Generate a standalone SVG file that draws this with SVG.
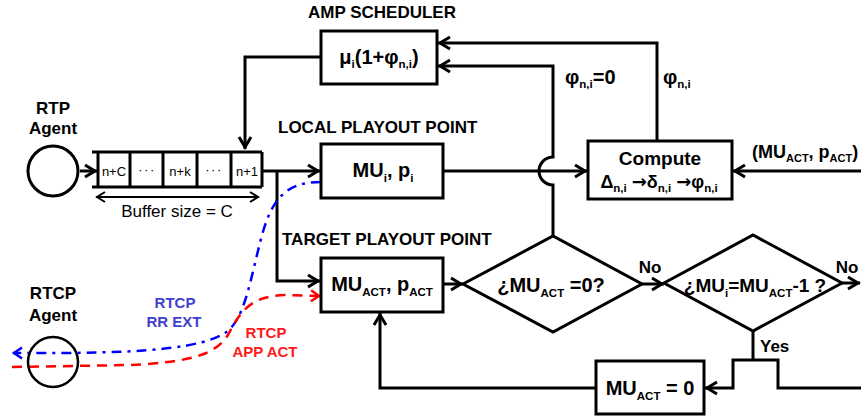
<svg xmlns="http://www.w3.org/2000/svg" width="861" height="419" viewBox="0 0 861 419">
<defs>
<style>
.b{font-family:"Liberation Sans",Arial,sans-serif;font-weight:bold;fill:#000}
.n{font-family:"Liberation Sans",Arial,sans-serif;font-weight:normal;fill:#000}
.ln{fill:none;stroke:#000;stroke-width:3}
.bx{fill:#fff;stroke:#000;stroke-width:3}
.s{font-size:11.5px}
.ar{font-family:"DejaVu Sans",sans-serif;font-weight:bold}
</style>
<marker id="ah" markerUnits="userSpaceOnUse" markerWidth="16" markerHeight="16" viewBox="-14 -8 16 16" refX="0" refY="0" orient="auto" overflow="visible">
<path d="M-12,-6 L-2,0 L-12,6" fill="none" stroke="#000" stroke-width="3" stroke-dasharray="none"/>
</marker>
<marker id="ahs" markerUnits="userSpaceOnUse" markerWidth="14" markerHeight="14" viewBox="-12 -7 14 14" refX="0" refY="0" orient="auto-start-reverse" overflow="visible">
<path d="M-9,-5 L-1,0 L-9,5" fill="none" stroke="#000" stroke-width="2"/>
</marker>
<marker id="ahb" markerUnits="userSpaceOnUse" markerWidth="14" markerHeight="14" viewBox="-12 -7 14 14" refX="0" refY="0" orient="auto" overflow="visible">
<path d="M-9,-5.5 L-1,0 L-9,5.5" fill="none" stroke="#0000ff" stroke-width="2.5" stroke-dasharray="none"/>
</marker>
<marker id="ahr" markerUnits="userSpaceOnUse" markerWidth="14" markerHeight="14" viewBox="-12 -7 14 14" refX="0" refY="0" orient="auto" overflow="visible">
<path d="M-9,-5.5 L-1,0 L-9,5.5" fill="none" stroke="#ff0000" stroke-width="2.5" stroke-dasharray="none"/>
</marker>
</defs>
<rect width="861" height="419" fill="#fff"/>

<g id="connectors">
<path class="ln" d="M321,57 L245,57 L245,149" marker-end="url(#ah)"/>
<path class="ln" d="M657,141 L657,43 L438,43" marker-end="url(#ah)"/>
<path class="ln" d="M553,236 L553,185 A14,14 0 0 1 553,157 L553,66 L438,66" marker-end="url(#ah)"/>
<path class="ln" d="M262,171 L320,171" marker-end="url(#ah)"/>
<path class="ln" d="M277,171 L277,281 L320,281" marker-end="url(#ah)"/>
<path class="ln" d="M443,171 L587,171" marker-end="url(#ah)"/>
<path class="ln" d="M861,171 L733,171" marker-end="url(#ah)"/>
<path class="ln" d="M443,284 L463,284" marker-end="url(#ah)"/>
<path class="ln" d="M642,284 L664,284" marker-end="url(#ah)"/>
<path class="ln" d="M842,283 L860,283" marker-end="url(#ah)"/>
<path class="ln" d="M753,331 L753,360"/>
<path class="ln" d="M861,388 L778,388 L778,360 L733,360 L733,388 L705,388" marker-end="url(#ah)"/>
<path class="ln" d="M596,388 L380,388 L380,313" marker-end="url(#ah)"/>
<path class="ln" d="M80,171 L97,171" marker-end="url(#ah)"/>
<path d="M96,197 L259,197" fill="none" stroke="#000" stroke-width="2" marker-start="url(#ahs)" marker-end="url(#ahs)"/>
<path d="M321,182 C285,182 272,200 262,235 C250,280 245,320 225,333 C200,348 150,352 70,353 L13,353" fill="none" stroke="#0000ff" stroke-width="2.5" stroke-dasharray="10,6,3,6" marker-end="url(#ahb)"/>
<path d="M12,367 L130,365 C190,362 215,355 228,335 C240,312 250,296 285,295 L320,296" fill="none" stroke="#ff0000" stroke-width="2.5" stroke-dasharray="10,7" marker-end="url(#ahr)"/>
</g>

<g id="amp-scheduler">
<text class="b" x="382" y="18" font-size="17" text-anchor="middle">AMP SCHEDULER</text>
<rect class="bx" x="321" y="31" width="116" height="53"/>
<text class="b" x="379" y="64" font-size="20" text-anchor="middle">μ<tspan class="s" dy="4">i</tspan><tspan dy="-4">(1+φ</tspan><tspan class="s" dy="4">n,i</tspan><tspan dy="-4">)</tspan></text>
</g>

<g id="rtp-agent">
<text class="b" x="53" y="114" font-size="17" text-anchor="middle">RTP</text>
<text class="b" x="53" y="134" font-size="17" text-anchor="middle">Agent</text>
<circle cx="53" cy="171" r="25" fill="#fff" stroke="#000" stroke-width="3"/>
</g>

<g id="buffer">
<path class="ln" d="M92,152 L262,152 M92,187 L262,187 M98,152 L98,187 M130,152 L130,187 M163,152 L163,187 M197,152 L197,187 M231,152 L231,187 M262,152 L262,187"/>
<text class="n" x="114" y="176" font-size="13" text-anchor="middle">n+C</text>
<text class="n" x="147" y="174" font-size="13" text-anchor="middle" letter-spacing="1.5">···</text>
<text class="n" x="180" y="176" font-size="13" text-anchor="middle">n+k</text>
<text class="n" x="214" y="174" font-size="13" text-anchor="middle" letter-spacing="1.5">···</text>
<text class="n" x="247" y="176" font-size="13" text-anchor="middle">n+1</text>
<text class="n" x="177" y="217" font-size="17" text-anchor="middle">Buffer size = C</text>
</g>

<g id="local-playout">
<text class="b" x="278" y="133" font-size="17">LOCAL PLAYOUT POINT</text>
<rect class="bx" x="321" y="144" width="122" height="54"/>
<text class="b" x="383" y="177" font-size="20" text-anchor="middle">MU<tspan class="s" dy="5">i</tspan><tspan dy="-5">, p</tspan><tspan class="s" dy="5">i</tspan></text>
</g>

<g id="compute">
<rect class="bx" x="588" y="141" width="144" height="58"/>
<text class="b" x="660" y="165" font-size="19" text-anchor="middle">Compute</text>
<text class="b" x="659" y="188" font-size="18" text-anchor="middle">Δ<tspan class="s" dy="4">n,i</tspan><tspan dy="-4"> </tspan><tspan class="ar" font-size="18">→</tspan>δ<tspan class="s" dy="4">n,i</tspan><tspan dy="-4"> </tspan><tspan class="ar" font-size="18">→</tspan>φ<tspan class="s" dy="4">n,i</tspan></text>
<text class="b" x="752" y="158" font-size="18">(MU<tspan font-size="11" dy="4">ACT</tspan><tspan dy="-4">, p</tspan><tspan font-size="11" dy="4">ACT</tspan><tspan dy="-4">)</tspan></text>
</g>

<g id="phi-labels">
<text class="b" x="565" y="84" font-size="20">φ<tspan class="s" dy="4">n,i</tspan><tspan dy="-4">=0</tspan></text>
<text class="b" x="663" y="84" font-size="20">φ<tspan class="s" dy="4">n,i</tspan></text>
</g>

<g id="target-playout">
<text class="b" x="282" y="245" font-size="17">TARGET PLAYOUT POINT</text>
<rect class="bx" x="321" y="258" width="122" height="54"/>
<text class="b" x="382" y="291" font-size="20" text-anchor="middle">MU<tspan class="s" dy="5">ACT</tspan><tspan dy="-5">, p</tspan><tspan class="s" dy="5">ACT</tspan></text>
</g>

<g id="decision1">
<polygon class="bx" points="463,284 553,236 642,284 553,332"/>
<text class="b" x="551" y="292" font-size="20" text-anchor="middle">¿MU<tspan class="s" dy="5">ACT</tspan><tspan dy="-5"> =0?</tspan></text>
<text class="b" x="650" y="273" font-size="17" text-anchor="middle">No</text>
</g>

<g id="decision2">
<polygon class="bx" points="664,283 753,235 842,283 753,331"/>
<text class="b" x="755" y="292" font-size="19" text-anchor="middle">¿MU<tspan class="s" dy="5">i</tspan><tspan dy="-5">=MU</tspan><tspan class="s" dy="5">ACT</tspan><tspan dy="-5">-1 ?</tspan></text>
<text class="b" x="847" y="273" font-size="17" text-anchor="middle">No</text>
<text class="b" x="760" y="352" font-size="17">Yes</text>
</g>

<g id="reset">
<rect class="bx" x="596" y="361" width="108" height="53"/>
<text class="b" x="650" y="395" font-size="20" text-anchor="middle">MU<tspan class="s" dy="5">ACT</tspan><tspan dy="-5"> = 0</tspan></text>
</g>

<g id="rtcp-agent">
<text class="b" x="53" y="299" font-size="17" text-anchor="middle">RTCP</text>
<text class="b" x="53" y="321" font-size="17" text-anchor="middle">Agent</text>
<circle cx="53" cy="362" r="25" fill="none" stroke="#000" stroke-width="2.5"/>
</g>

<g id="rtcp-labels">
<text class="b" x="175" y="308" font-size="15" text-anchor="middle" style="fill:#4040d0">RTCP</text>
<text class="b" x="174" y="327" font-size="15" text-anchor="middle" style="fill:#4040d0">RR EXT</text>
<text class="b" x="266" y="338" font-size="15" text-anchor="middle" style="fill:#ff1a1a">RTCP</text>
<text class="b" x="265" y="357" font-size="15" text-anchor="middle" style="fill:#ff1a1a">APP ACT</text>
</g>
</svg>
